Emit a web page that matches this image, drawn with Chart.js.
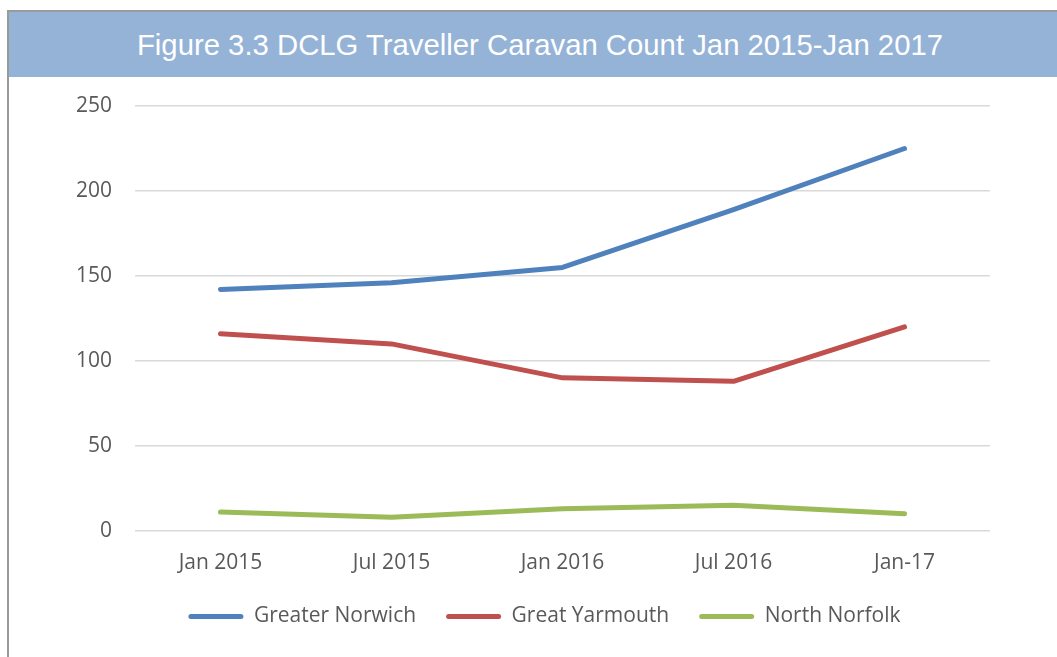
<!DOCTYPE html>
<html>
<head>
<meta charset="utf-8">
<script src="https://cdn.jsdelivr.net/npm/chart.js@4/dist/chart.umd.min.js"></script>
<style>
  html, body { margin: 0; padding: 0; background: #ffffff; width: 1057px; height: 657px; overflow: hidden; }
  #frame { position: absolute; left: 7px; top: 10px; width: 1200px; height: 800px;
           border-left: 2px solid #9a9a9a; border-top: 2px solid #9a9a9a; }
  #title { position: absolute; left: 9px; top: 12px; width: 1048px; height: 65px; background: #95B3D7;
           color: #ffffff; font-family: "Liberation Sans", Arial, sans-serif; font-size: 29.3px;
           line-height: 65px; text-align: center; box-sizing: border-box; padding-left: 14px; }
  #wrap { position: absolute; left: 9px; top: 77px; width: 1048px; height: 580px; }
</style>
</head>
<body>
<div id="frame"></div>
<div id="title">Figure 3.3 DCLG Traveller Caravan Count Jan 2015-Jan 2017</div>
<div id="wrap"><canvas id="c" width="1048" height="580"></canvas></div>
<script>
const categories = ["Jan 2015", "Jul 2015", "Jan 2016", "Jul 2016", "Jan-17"];
const greaterNorwich = [142, 146, 155, 189, 225];
const greatYarmouth = [116, 110, 90, 88, 120];
const northNorfolk = [11, 8, 13, 15, 10];
const yTicks = [0, 50, 100, 150, 200, 250];

const textColor = "#595959";
const font = { family: "'Open Sans', sans-serif", size: 21 };

function mk(label, data, color) {
  return {
    label: label, data: data, borderColor: color, backgroundColor: color,
    borderWidth: 5, pointRadius: 0, pointHoverRadius: 0, tension: 0,
    borderCapStyle: "round", borderJoinStyle: "round", fill: false
  };
}

const legendShift = {
  id: "legendShift",
  afterLayout: function (chart) {
    const l = chart.legend;
    if (!l) return;
    l.left += 45; l.right += 45;
    l.top -= 20; l.bottom -= 20;
  }
};

new Chart(document.getElementById("c"), {
  type: "line",
  data: {
    labels: categories,
    datasets: [
      mk("Greater Norwich", greaterNorwich, "#4F81BD"),
      mk("Great Yarmouth", greatYarmouth, "#C0504D"),
      mk("North Norfolk", northNorfolk, "#9BBB59")
    ]
  },
  plugins: [legendShift],
  options: {
    responsive: false,
    animation: false,
    devicePixelRatio: 1,
    layout: { padding: { top: 29, right: 67, bottom: 0, left: 0 } },
    plugins: {
      tooltip: { enabled: false },
      title: { display: false },
      legend: {
        position: "bottom",
        labels: {
          color: textColor, font: font, boxWidth: 55, boxHeight: 5, padding: 30,
          useBorderRadius: true, borderRadius: 2.5,
          generateLabels: function (chart) {
            return chart.data.datasets.map(function (ds, i) {
              return {
                text: ds.label, fillStyle: ds.borderColor, strokeStyle: ds.borderColor,
                lineWidth: 0, hidden: false, datasetIndex: i, fontColor: textColor,
                borderRadius: 2.5
              };
            });
          }
        }
      }
    },
    scales: {
      x: {
        offset: true,
        grid: { display: false, drawTicks: false },
        border: { display: false },
        ticks: { color: textColor, font: font, padding: 20, maxRotation: 0 }
      },
      y: {
        min: 0, max: 250,
        afterFit: function (s) { s.width = 126; s.paddingTop = 0; s.paddingBottom = 0; },
        afterBuildTicks: function (s) { s.ticks = yTicks.map(function (v) { return { value: v }; }); },
        grid: { color: "#D9D9D9", lineWidth: 1.5, drawTicks: false },
        border: { display: false },
        ticks: { color: textColor, font: font, padding: 23 }
      }
    }
  }
});
</script>
</body>
</html>
